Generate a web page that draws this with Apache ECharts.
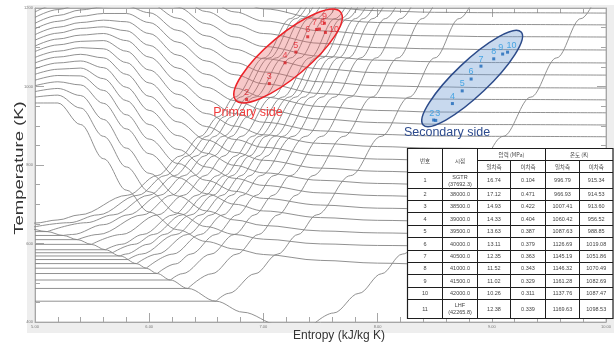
<!DOCTYPE html>
<html>
<head>
<meta charset="utf-8">
<script src="https://cdn.jsdelivr.net/npm/echarts@6/dist/echarts.min.js"></script>
<style>
  html, body { margin: 0; padding: 0; background: #fff; }
  #wrap { position: relative; width: 614px; height: 345px; overflow: hidden; }
  #band { position: absolute; left: 27px; top: 5px; width: 587px; height: 328px; background: #eeeeee; }
  #main { position: absolute; left: 0; top: 0; width: 614px; height: 345px; }
</style>
</head>
<body>
<div id="wrap"><div id="band"></div><div id="main"></div></div>
<script>
// entropy stations (kJ/kg K) for the constant-enthalpy lines
const hS = [5.0, 5.2, 5.4, 5.6, 5.8, 6.0, 6.25, 6.5, 6.75, 7.0, 7.5, 8.0, 8.5, 9.0, 10.0];
// temperature (K) of each constant-enthalpy line at hS
const hT = [
  [958, 958, 903, 816, 736, 680, 635, 605, 586, 572, 557, 550, 547, 546, 545],
  [973, 978, 945, 873, 795, 732, 677, 643, 623, 611, 599, 595, 594, 593, 593],
  [987, 995, 977, 916, 843, 779, 721, 683, 660, 646, 632, 627, 625, 624, 624],
  [1002, 1012, 1004, 957, 892, 829, 768, 727, 700, 683, 666, 659, 657, 656, 655],
  [1016, 1028, 1027, 990, 928, 866, 804, 761, 733, 715, 698, 690, 688, 687, 686],
  [1031, 1044, 1047, 1020, 964, 903, 840, 795, 766, 748, 729, 722, 719, 718, 717],
  [1045, 1060, 1065, 1048, 998, 939, 875, 830, 799, 780, 761, 753, 750, 749, 748],
  [1060, 1075, 1082, 1073, 1031, 975, 910, 864, 832, 812, 792, 784, 781, 780, 779],
  [1074, 1090, 1099, 1096, 1061, 1009, 945, 898, 865, 845, 824, 815, 812, 811, 810],
  [1089, 1106, 1115, 1117, 1090, 1042, 980, 931, 899, 877, 855, 847, 843, 842, 841],
  [1103, 1121, 1131, 1135, 1117, 1075, 1014, 965, 931, 909, 887, 878, 874, 873, 872],
  [1118, 1136, 1148, 1152, 1142, 1105, 1047, 998, 964, 941, 917, 908, 904, 903, 902],
  [1132, 1151, 1163, 1169, 1165, 1135, 1080, 1031, 996, 973, 949, 939, 935, 934, 933],
  [1147, 1166, 1179, 1186, 1186, 1163, 1113, 1065, 1030, 1007, 982, 972, 968, 967, 966],
  [1161, 1181, 1195, 1203, 1205, 1188, 1143, 1097, 1061, 1037, 1012, 1002, 999, 997, 996],
  [1176, 1196, 1210, 1219, 1222, 1212, 1174, 1129, 1095, 1071, 1045, 1035, 1032, 1030, 1029],
  [1190, 1210, 1225, 1235, 1240, 1235, 1202, 1160, 1126, 1102, 1077, 1067, 1063, 1061, 1060],
  [1205, 1225, 1241, 1251, 1257, 1255, 1229, 1191, 1158, 1135, 1110, 1099, 1096, 1094, 1093],
  [1219, 1240, 1256, 1267, 1273, 1275, 1255, 1221, 1190, 1167, 1142, 1132, 1129, 1127, 1126],
  [1234, 1255, 1271, 1283, 1290, 1293, 1279, 1249, 1220, 1198, 1173, 1163, 1159, 1158, 1157],
  [1248, 1269, 1286, 1299, 1307, 1310, 1302, 1276, 1248, 1227, 1203, 1193, 1189, 1188, 1187]
];

// superheated isobars [s, T], from the critical one down to 0.1 MPa
const isobars = [
  [[4.407,647],[4.8,649],[5.0,652],[5.2,660],[5.389,673],[5.811,723],[6.070,773],[6.274,823],[6.448,873],[6.605,923],[6.748,973],[7.006,1073],[7.237,1173],[7.448,1273]],
  [[4.931,639],[5.30,653],[5.554,673],[5.902,723],[6.140,773],[6.335,823],[6.505,873],[6.658,923],[6.799,973],[7.054,1073],[7.283,1173],[7.493,1273]],
  [[5.104,630],[5.45,653],[5.685,673],[5.998,723],[6.223,773],[6.410,823],[6.575,873],[6.724,923],[6.862,973],[7.114,1073],[7.341,1173],[7.551,1273]],
  [[5.246,620.5],[5.33,623],[5.60,648],[5.816,673],[6.095,723],[6.306,773],[6.485,823],[6.645,873],[6.926,973],[7.174,1073],[7.400,1173],[7.609,1273]],
  [[5.372,609.8],[5.551,623],[5.946,673],[6.195,723],[6.394,773],[6.565,823],[6.720,873],[6.862,923],[6.996,973],[7.241,1073],[7.465,1173],[7.672,1273]],
  [[5.494,597.8],[5.758,623],[6.076,673],[6.301,723],[6.489,773],[6.654,823],[6.805,873],[7.077,973],[7.319,1073],[7.540,1173],[7.746,1273]],
  [[5.616,584.1],[5.757,598],[5.944,623],[6.212,673],[6.419,723],[6.597,773],[6.756,823],[6.903,873],[7.169,973],[7.408,1073],[7.627,1173],[7.832,1273]],
  [[5.679,576.4],[5.87,598],[6.038,623],[6.289,673],[6.488,723],[6.662,773],[6.818,823],[6.963,873],[7.226,973],[7.463,1073],[7.682,1173],[7.885,1273]],
  [[5.745,568.2],[5.794,573],[5.99,598],[6.132,623],[6.366,673],[6.558,723],[6.727,773],[6.880,823],[7.022,873],[7.282,973],[7.518,1073],[7.736,1173],[7.938,1273]],
  [[5.815,559.1],[5.932,573],[6.234,623],[6.454,673],[6.640,723],[6.805,773],[6.955,823],[7.096,873],[7.353,973],[7.588,1073],[7.806,1173],[8.008,1273]],
  [[5.890,548.8],[6.070,573],[6.336,623],[6.543,673],[6.722,723],[6.883,773],[7.031,823],[7.169,873],[7.425,973],[7.658,1073],[7.875,1173],[8.077,1273]],
  [[5.974,537.1],[6.208,573],[6.449,623],[6.646,673],[6.819,723],[6.976,773],[7.259,873],[7.512,973],[7.744,1073],[7.959,1173],[8.161,1273]],
  [[6.070,523.5],[6.231,548],[6.364,573],[6.584,623],[6.771,673],[6.939,723],[7.092,773],[7.371,873],[7.621,973],[7.852,1073],[8.068,1173],[8.270,1273]],
  [[6.186,507],[6.289,523],[6.541,573],[6.745,623],[6.924,673],[7.086,723],[7.236,773],[7.510,873],[7.759,973],[7.989,1073],[8.203,1173],[8.405,1273]],
  [[6.339,485.5],[6.548,523],[6.768,573],[6.958,623],[7.129,673],[7.287,723],[7.434,773],[7.704,873],[7.951,973],[8.179,1073],[8.393,1173],[8.594,1273]],
  [[6.585,453],[6.696,473],[6.927,523],[7.125,573],[7.303,623],[7.467,673],[7.764,773],[8.031,873],[8.276,973],[8.502,1073],[8.715,1173],[8.915,1273]],
  [[7.359,373],[7.615,423],[7.836,473],[8.035,523],[8.217,573],[8.545,673],[8.836,773],[9.100,873],[9.342,973],[9.568,1073],[9.780,1173],[9.980,1273]]
];

// saturated vapour line [s, T]
const satVapor = [[4.407,647.1],[4.6,645.5],[4.931,638.9],[5.104,630.4],[5.246,620.5],[5.372,609.8],[5.494,597.8],[5.616,584.1],[5.745,568.2],[5.890,548.8],[5.974,537.1],[6.070,523.5],[6.186,507.0],[6.339,485.5],[6.585,453.0],[6.821,425.0],[7.127,393.4],[7.359,372.8]];
// isobars inside the two-phase region: saturation T and vapour entropy
const wetT = [630.4, 620.5, 609.8, 597.8, 584.1, 576.4, 568.2, 559.1, 548.8, 537.1, 523.5, 507.0, 485.5, 453.0];
const wetS = [5.104, 5.246, 5.372, 5.494, 5.616, 5.679, 5.745, 5.815, 5.890, 5.974, 6.070, 6.186, 6.339, 6.585];

// table
const tblNo = [1, 2, 3, 4, 5, 6, 7, 8, 9, 10, 11];
const tblEvent = ['SGTR', '', '', '', '', '', '', '', '', '', 'LHF'];
const tblTime = [37692.3, 38000, 38500, 39000, 39500, 40000, 40500, 41000, 41500, 42000, 42265.8];
const tblP1 = [16.74, 17.12, 14.93, 14.33, 13.63, 13.11, 12.35, 11.52, 11.02, 10.26, 12.38];
const tblP2 = [0.104, 0.471, 0.422, 0.404, 0.387, 0.379, 0.363, 0.343, 0.329, 0.311, 0.339];
const tblT1 = [996.79, 966.93, 1007.41, 1060.42, 1087.63, 1126.69, 1145.19, 1146.32, 1161.28, 1137.76, 1169.63];
const tblT2 = [915.34, 914.53, 913.60, 956.52, 988.85, 1019.08, 1051.86, 1070.49, 1082.69, 1087.47, 1098.53];

// marked states 2..10, entropy
const priNo = ['2', '3', '4', '5', '6', '7', '8', '9', '10'];
const priS = [6.853, 7.052, 7.190, 7.284, 7.388, 7.466, 7.491, 7.534, 7.543];
const secNo = ['2', '3', '4', '5', '6', '7', '8', '9', '10'];
const secS = [8.491, 8.509, 8.655, 8.741, 8.819, 8.905, 9.017, 9.095, 9.138];

const FONT = '"Liberation Sans", Arial, sans-serif';
const KFONT = '"Noto Sans CJK KR", sans-serif';
const GRAY = '#858585';

const priLbl = [{}, {}, {}, {}, {}, { offset: [-2, 0] }, { offset: [3, 0] }, {}, { position: 'right', distance: 2, offset: [0, -3] }];
const secLbl = [{ offset: [-2, 0] }, { offset: [2, 0] }, {}, {}, {}, {}, {}, { offset: [-2, 0] }, { offset: [4, 0] }];

const baseLine = {
  type: 'line', showSymbol: false, silent: true, z: 1,
  smooth: 0.35, smoothMonotone: 'x',
  lineStyle: { color: GRAY, width: 0.9 }
};

const series = [];
hT.forEach(row => series.push({ ...baseLine, data: row.map((t, i) => [hS[i], t]) }));
isobars.forEach(pts => series.push({ ...baseLine, data: pts }));
wetT.forEach((t, i) => series.push({ ...baseLine, smooth: false, data: [[5, t], [wetS[i], t]] }));
series.push({ ...baseLine, data: satVapor });

series.push({
  type: 'scatter', z: 5, symbol: 'rect', symbolSize: 3,
  itemStyle: { color: '#d81e24' },
  label: { show: true, position: 'top', distance: 1, color: '#e4202a', fontSize: 9, fontFamily: FONT, textBorderWidth: 0, formatter: '{b}' },
  data: priNo.map((n, i) => ({ name: n, value: [priS[i], tblT1[i + 1]], label: priLbl[i] }))
});
series.push({
  type: 'scatter', z: 5, symbol: 'rect', symbolSize: 3,
  itemStyle: { color: '#1a66b8' },
  label: { show: true, position: 'top', distance: 1, color: '#2797e0', fontSize: 9, fontFamily: FONT, textBorderWidth: 0, formatter: '{b}' },
  data: secNo.map((n, i) => ({ name: n, value: [secS[i], tblT2[i + 1]], label: secLbl[i] }))
});

const axisCol = '#a6a6a6';
function xAx(pos, labels) {
  return {
    type: 'value', min: 5, max: 10, interval: 1, position: pos,
    axisLine: { show: true, lineStyle: { color: axisCol, width: 1 } },
    axisTick: { inside: true, length: 9, lineStyle: { color: axisCol } },
    minorTick: { show: true, splitNumber: 5, length: 5, lineStyle: { color: axisCol } },
    splitLine: { show: false },
    axisLabel: { show: labels, fontSize: 4, color: '#777', margin: 3, fontFamily: FONT, formatter: v => v.toFixed(2) }
  };
}
function yAx(pos, labels) {
  return {
    type: 'value', min: 400, max: 1200, interval: 200, position: pos,
    axisLine: { show: true, lineStyle: { color: axisCol, width: 1 } },
    axisTick: { inside: true, length: 9, lineStyle: { color: axisCol } },
    minorTick: { show: true, splitNumber: 4, length: 5, lineStyle: { color: axisCol } },
    splitLine: { show: false },
    axisLabel: { show: labels, fontSize: 4, color: '#777', margin: 2, fontFamily: FONT, formatter: v => String(v) }
  };
}

const option = {
  animation: false,
  backgroundColor: 'transparent',
  grid: { left: 35, right: 0, top: 8, bottom: 23, show: true, backgroundColor: '#fff', borderColor: '#bdbdbd', borderWidth: 1 },
  xAxis: [xAx('bottom', true), xAx('top', false)],
  yAxis: [yAx('left', true), yAx('right', false)],
  series: series
};

const chart = echarts.init(document.getElementById('main'));
chart.setOption(option);

// annotations, table and titles
const g = [];
function txt(x, y, s, font, fill, extra) {
  return Object.assign({
    type: 'text', x: x, y: y, z: 30, silent: true,
    style: { text: s, font: font, fill: fill, align: 'center', verticalAlign: 'middle', textAlign: 'center', textVerticalAlign: 'middle' }
  }, extra || {});
}
function seg(x1, y1, x2, y2) {
  return { type: 'line', z: 26, silent: true, shape: { x1: x1, y1: y1, x2: x2, y2: y2 }, style: { stroke: '#1e1e1e', lineWidth: 1 } };
}

const pc = chart.convertToPixel({ gridIndex: 0 }, [7.216, 1077.8]);
const sc = chart.convertToPixel({ gridIndex: 0 }, [8.828, 1020.4]);
g.push({ type: 'ellipse', x: pc[0], y: pc[1], rotation: 40 * Math.PI / 180, z: 3, silent: true,
  shape: { cx: 0, cy: 0, rx: 68.5, ry: 21 },
  style: { fill: 'rgba(232,90,90,0.33)', stroke: '#ec2228', lineWidth: 1.5 } });
g.push({ type: 'ellipse', x: sc[0], y: sc[1], rotation: 43.5 * Math.PI / 180, z: 3, silent: true,
  shape: { cx: 0, cy: 0, rx: 67.5, ry: 17 },
  style: { fill: 'rgba(110,155,210,0.38)', stroke: '#2c4b8a', lineWidth: 1.5 } });

g.push(txt(248, 113, 'Primary side', '12.5px ' + FONT, '#f03c3c'));
g.push(txt(447, 133, 'Secondary side', '12.5px ' + FONT, '#2d4b8e'));
g.push(txt(339, 336, 'Entropy (kJ/kg K)', '12px ' + FONT, '#333'));
g.push(txt(19, 168, 'Temperature (K)', '13px ' + FONT, '#333', { rotation: Math.PI / 2, scaleX: 1.42 }));

// table layout
const colX = [407.5, 442.5, 477.5, 510.5, 545.5, 579.5, 613];
const rowY = [148.5, 172.5, 188.5, 200.5, 212.5, 225.5, 237.5, 250.5, 262.5, 274.5, 287.5, 299.5, 318.5];
const midY = 160.5;
g.push({ type: 'rect', z: 25, silent: true, shape: { x: colX[0], y: rowY[0], width: colX[6] - colX[0], height: rowY[12] - rowY[0] },
  style: { fill: '#fff', stroke: '#1e1e1e', lineWidth: 1.2 } });
for (let r = 1; r < rowY.length - 1; r++) g.push(seg(colX[0], rowY[r], colX[6], rowY[r]));
g.push(seg(colX[2], midY, colX[6], midY));
for (let c = 1; c < colX.length - 1; c++) {
  const top = (c === 3 || c === 5) ? midY : rowY[0];
  g.push(seg(colX[c], top, colX[c], rowY[12]));
}
const tf = '5.5px ' + KFONT;
const cx = c => (colX[c] + colX[c + 1]) / 2;
g.push(txt(cx(0), (rowY[0] + rowY[1]) / 2, '번호', tf, '#444'));
g.push(txt(cx(1), (rowY[0] + rowY[1]) / 2, '시점', tf, '#444'));
g.push(txt((colX[2] + colX[4]) / 2, (rowY[0] + midY) / 2, '압력 (MPa)', tf, '#444'));
g.push(txt((colX[4] + colX[6]) / 2, (rowY[0] + midY) / 2, '온도 (K)', tf, '#444'));
['일차측', '이차측', '일차측', '이차측'].forEach((s, i) => g.push(txt(cx(i + 2), (midY + rowY[1]) / 2, s, tf, '#444')));
const nf = '5.5px ' + FONT;
tblNo.forEach((n, i) => {
  const y = (rowY[i + 1] + rowY[i + 2]) / 2;
  const t = tblEvent[i] ? tblEvent[i] + '\n(' + tblTime[i].toFixed(1) + ')' : tblTime[i].toFixed(1);
  g.push(txt(cx(0), y, String(n), nf, '#444'));
  g.push(txt(cx(1), y, t, nf, '#444', { style: { text: t, font: nf, fill: '#444', align: 'center', verticalAlign: 'middle', lineHeight: 7 } }));
  g.push(txt(cx(2), y, tblP1[i].toFixed(2), nf, '#444'));
  g.push(txt(cx(3), y, tblP2[i].toFixed(3), nf, '#444'));
  g.push(txt(cx(4), y, tblT1[i].toFixed(2), nf, '#444'));
  g.push(txt(cx(5), y, tblT2[i].toFixed(2), nf, '#444'));
});

chart.setOption({ graphic: g });
</script>
</body>
</html>
